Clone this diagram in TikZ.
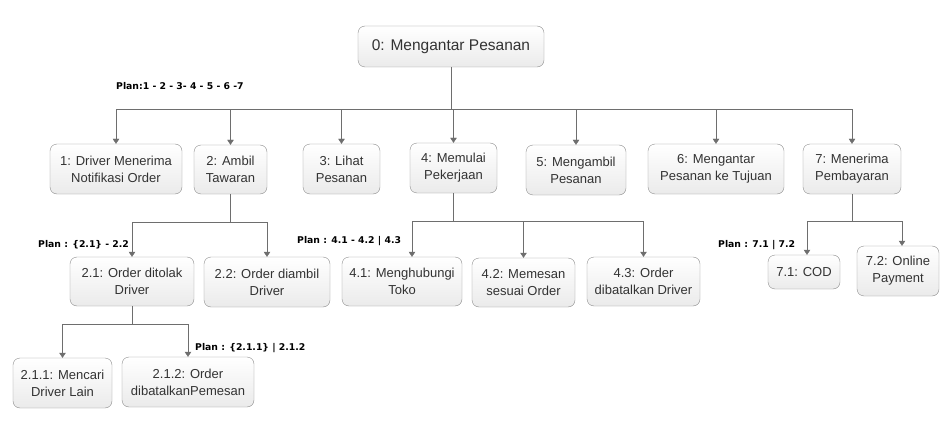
\documentclass[tikz,border=0pt]{standalone}
\usepackage{fontspec}
\setmainfont{Liberation Sans}
\newfontfamily\planfont{DejaVu Sans}
\usetikzlibrary{arrows.meta}

\definecolor{linegray}{HTML}{6E6E6E}
\definecolor{boxgray}{HTML}{8C8C8C}
\definecolor{textgray}{HTML}{333333}

\tikzset{
  task/.style={draw=boxgray, rounded corners=7pt, top color=white, bottom color=gray!16,
    align=center, text=textgray, inner sep=2pt, font=\fontsize{13}{17}\selectfont},
  link/.style={draw=linegray, -{Triangle[width=6.5pt,length=5pt]}},
  plan/.style={anchor=west, inner sep=0pt, font=\planfont\bfseries\fontsize{9.3}{11}\selectfont}
}

\begin{document}
\begin{tikzpicture}[x=1pt,y=-1pt]
\useasboundingbox (0,0) rectangle (950,433);

% Root task
\node[task, minimum width=186pt, minimum height=41pt, font=\fontsize{15.5}{18}\selectfont] (n0) at (451,46.5) {0: Mengantar Pesanan};

% Level 1
\node[task, minimum width=132pt, minimum height=50pt] (n1) at (116,169) {1: Driver Menerima\\Notifikasi Order};
\node[task, minimum width=73pt, minimum height=49pt] (n2) at (230.5,169.5) {2: Ambil\\Tawaran};
\node[task, minimum width=77pt, minimum height=50pt] (n3) at (341.5,169) {3: Lihat\\Pesanan};
\node[task, minimum width=87pt, minimum height=50pt] (n4) at (453.5,168) {4: Memulai\\Pekerjaan};
\node[task, minimum width=100pt, minimum height=50pt] (n5) at (576,170) {5: Mengambil\\Pesanan};
\node[task, minimum width=136pt, minimum height=50pt] (n6) at (716,169) {6: Mengantar\\Pesanan ke Tujuan};
\node[task, minimum width=98pt, minimum height=50pt] (n7) at (852,169) {7: Menerima\\Pembayaran};

% Level 2
\node[task, minimum width=124pt, minimum height=49pt] (n21) at (132,281.5) {2.1: Order ditolak\\Driver};
\node[task, minimum width=126pt, minimum height=50pt] (n22) at (267,282) {2.2: Order diambil\\Driver};
\node[task, minimum width=120pt, minimum height=49pt] (n41) at (402,281.5) {4.1: Menghubungi\\Toko};
\node[task, minimum width=103pt, minimum height=49pt] (n42) at (523.5,282.5) {4.2: Memesan\\sesuai Order};
\node[task, minimum width=113pt, minimum height=49pt] (n43) at (643.5,281.5) {4.3: Order\\dibatalkan Driver};
\node[task, minimum width=72pt, minimum height=34pt] (n71) at (804,272) {7.1: COD};
\node[task, minimum width=82pt, minimum height=50pt] (n72) at (898,271) {7.2: Online\\Payment};

% Level 3
\node[task, minimum width=99pt, minimum height=50pt] (n211) at (62.5,383) {2.1.1: Mencari\\Driver Lain};
\node[task, minimum width=132pt, minimum height=50pt] (n212) at (188,382) {2.1.2: Order\\dibatalkanPemesan};

% Bars
\coordinate (b0) at (451,109);
\coordinate (b2) at (230,222);
\coordinate (b4) at (453,221);
\coordinate (b7) at (852,221);
\coordinate (b21) at (133,324);

% Connectors
\foreach \c in {n1,n2,n3,n4,n5,n6,n7}
  \draw[link] (n0.south) |- (\c.north |- b0) -- (\c.north);
\foreach \c in {n21,n22}
  \draw[link] (n2.south) |- (\c.north |- b2) -- (\c.north);
\draw[link] (n4.south) |- ([xshift=10pt]n41.north |- b4) -- ([xshift=10pt]n41.north);
\foreach \c in {n42,n43}
  \draw[link] (n4.south) |- (\c.north |- b4) -- (\c.north);
\draw[link] (n7.south) |- ([xshift=3pt]n71.north |- b7) -- ([xshift=3pt]n71.north);
\draw[link] (n7.south) |- ([xshift=4pt]n72.north |- b7) -- ([xshift=4pt]n72.north);
\foreach \c in {n211,n212}
  \draw[link] (n21.south) |- (\c.north |- b21) -- (\c.north);

% Plans
\node[plan] (p0) at (116,86) {Plan:1 - 2 - 3- 4 - 5 - 6 -7};
\node[plan] (p2) at (38,245) {Plan : \{2.1\} - 2.2};
\node[plan] (p4) at (297,241) {Plan : 4.1 - 4.2 | 4.3};
\node[plan] (p7) at (718,245) {Plan : 7.1 | 7.2};
\node[plan] (p21) at (195,348) {Plan : \{2.1.1\} | 2.1.2};

\end{tikzpicture}
\end{document}
